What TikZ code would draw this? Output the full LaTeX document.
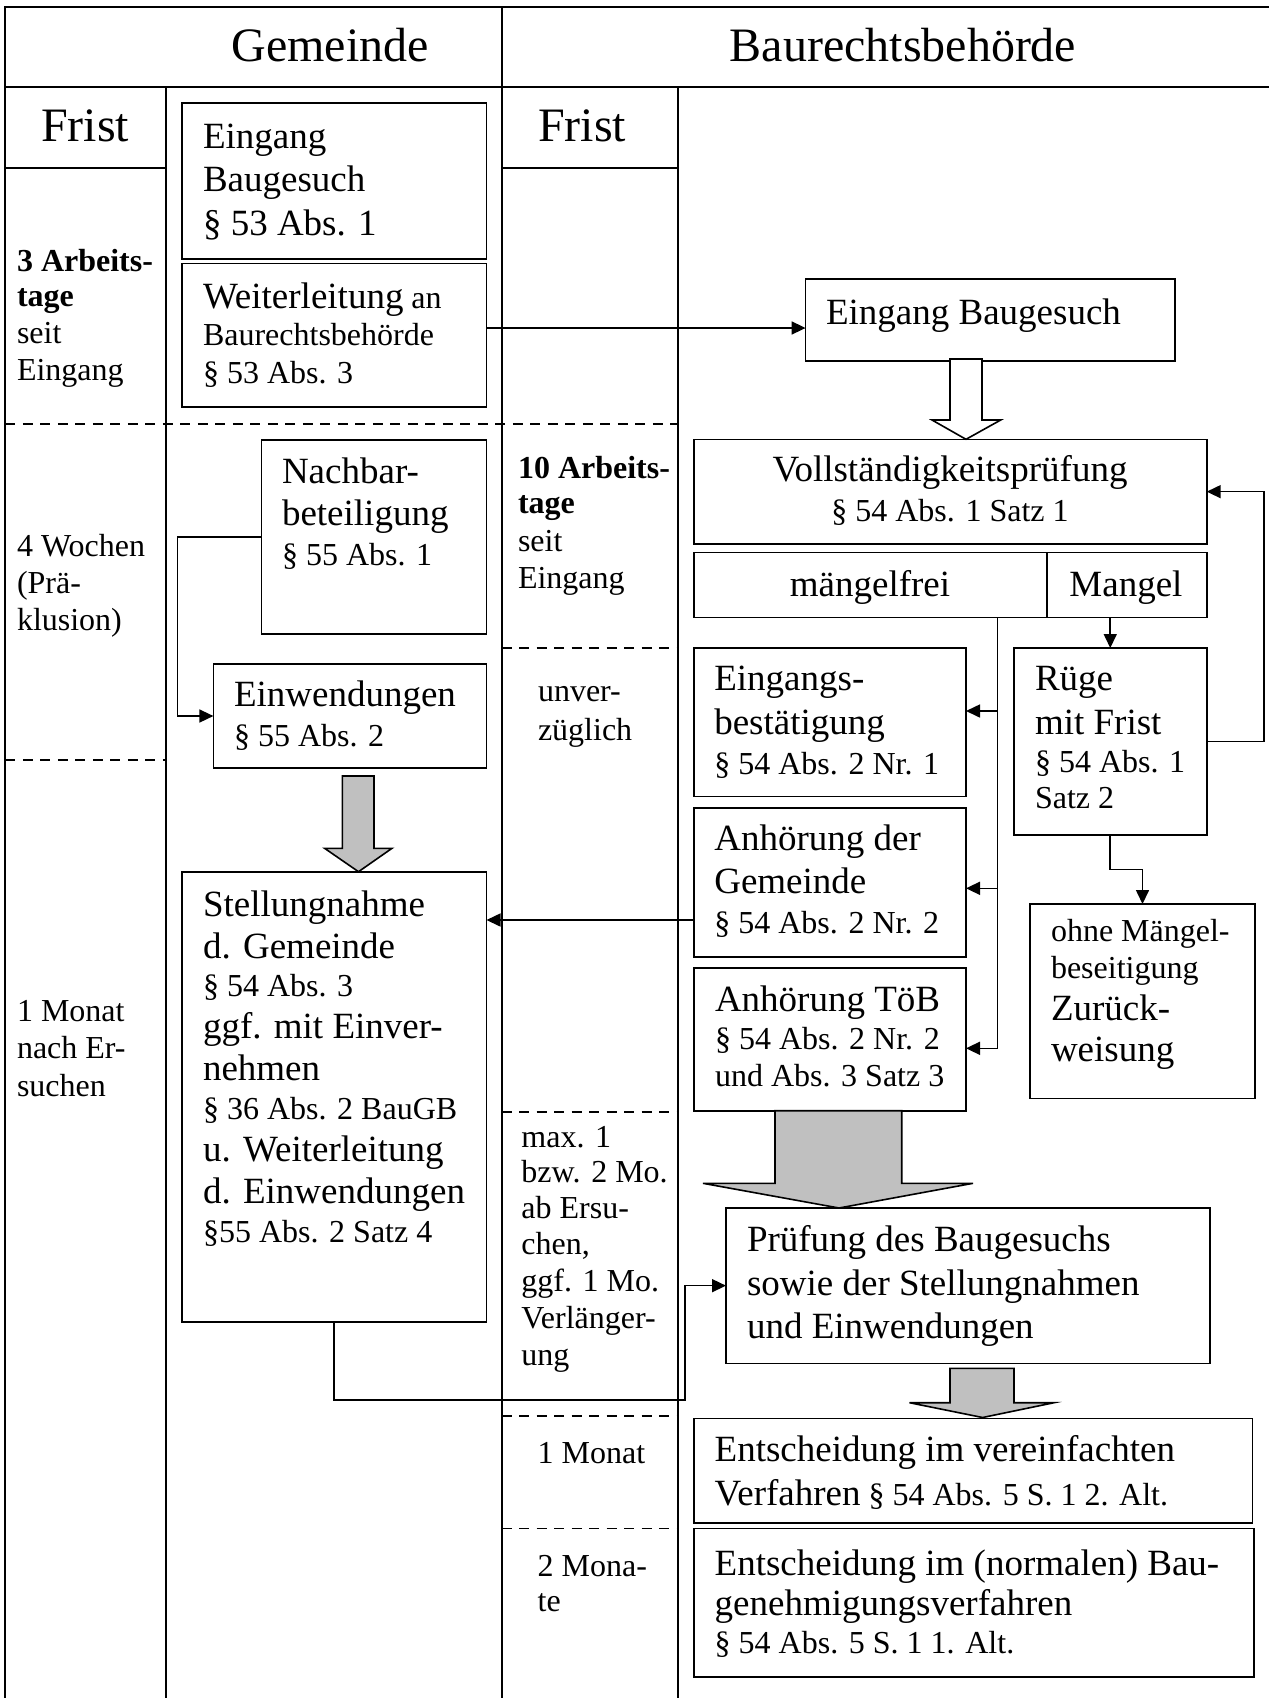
\documentclass[tikz,border=0pt]{standalone}
\usepackage{fontspec}
\setmainfont{Liberation Serif}
\usetikzlibrary{arrows.meta}
\definecolor{grArrow}{RGB}{192,192,192}
\newcommand\fBig{\fontsize{37}{43}\selectfont}
\newcommand\fMed{\fontsize{32}{37}\selectfont}
\newcommand\fHead{\fontsize{48}{55}\selectfont}
\newcommand\Bx[5]{\node[bx, minimum width={#4-#2}, minimum height={#5-#3}] (#1) at ({(#2+#4)/2},{(#3+#5)/2}) {};}
\newcommand\Tx[5]{\node[tx,font=#4] (#1) at (#2,#3) {#5};}
\begin{document}
\begin{tikzpicture}[x=1pt,y=-1pt,
  frame/.style={line width=2pt},
  dsh/.style={line width=1.6pt, dash pattern=on 10pt off 7.5pt},
  bx/.style={draw, line width=1.6pt, inner sep=0pt, outer sep=0pt, rectangle},
  tx/.style={anchor=base west, inner sep=0pt, outer sep=0pt},
  txc/.style={anchor=base, inner sep=0pt, outer sep=0pt},
  arr/.style={line width=1.6pt, -{Triangle[length=14pt,width=13pt]}},
  lin/.style={line width=1.6pt},
  blk/.style={draw, line width=1.6pt, line join=miter}]
\useasboundingbox (0,0) rectangle (1269,1698);
% ---------- frame ----------
\draw[frame] (5.4,7) -- (1269,7);
\draw[frame] (5.4,87) -- (1269,87);
\draw[frame] (5.4,6) -- (5.4,1698);
\draw[frame] (165.7,87) -- (165.7,1698);
\draw[frame] (501.5,6) -- (501.5,1698);
\draw[frame] (678,87) -- (678,1698);
\draw[frame] (5.4,167.8) -- (165.7,167.8);
\draw[frame] (501.5,167.8) -- (678,167.8);
\draw[dsh] (5.4,424) -- (678,424);
\draw[dsh] (5.4,760) -- (165.7,760);
\draw[dsh] (501.5,647.7) -- (678,647.7);
\draw[dsh] (501.5,1111.7) -- (678,1111.7);
\draw[dsh] (501.5,1416) -- (678,1416);
\draw[dsh] (501.5,1528.3) -- (678,1528.3);
% ---------- headers ----------
\node[txc,font=\fHead] (hG) at (330,61.7) {Gemeinde};
\node[txc,font=\fHead] (hB) at (903,61.7) {Baurechtsbehörde};
\Tx{fr1}{41}{141.7}{\fHead}{Frist}
\Tx{fr2}{538}{141.7}{\fHead}{Frist}
% ---------- Frist column 1 ----------
\Tx{a1}{17}{271.7}{\fMed\bfseries}{3 Arbeits-}
\Tx{a2}{17}{306.7}{\fMed\bfseries}{tage}
\Tx{a3}{17}{343}{\fMed}{seit}
\Tx{a4}{17}{380}{\fMed}{Eingang}
\Tx{a5}{17}{556.7}{\fMed}{4 Wochen}
\Tx{a6}{17}{593}{\fMed}{(Prä-}
\Tx{a7}{17}{630}{\fMed}{klusion)}
\Tx{a8}{17}{1021.7}{\fMed}{1 Monat}
\Tx{a9}{17}{1058.3}{\fMed}{nach Er-}
\Tx{a10}{17}{1096}{\fMed}{suchen}
% ---------- Frist column 3 ----------
\Tx{c1}{518}{478}{\fMed\bfseries}{10 Arbeits-}
\Tx{c2}{518}{513}{\fMed\bfseries}{tage}
\Tx{c3}{518}{551.7}{\fMed}{seit}
\Tx{c4}{518}{588}{\fMed}{Eingang}
\Tx{c5}{538}{701.7}{\fMed}{unver-}
\Tx{c6}{538}{740}{\fMed}{züglich}
\Tx{c7}{521.4}{1147.7}{\fMed}{max. 1}
\Tx{c8}{521.4}{1182}{\fMed}{bzw. 2 Mo.}
\Tx{c9}{521.4}{1218.3}{\fMed}{ab Ersu-}
\Tx{c10}{521.4}{1254}{\fMed}{chen,}
\Tx{c11}{521.4}{1291.7}{\fMed}{ggf. 1 Mo.}
\Tx{c12}{521.4}{1328}{\fMed}{Verlänger-}
\Tx{c13}{521.4}{1365}{\fMed}{ung}
\Tx{c14}{537.7}{1463.3}{\fMed}{1 Monat}
\Tx{c15}{537.7}{1576.7}{\fMed}{2 Mona-}
\Tx{c16}{537.7}{1611.7}{\fMed}{te}
% ---------- boxes Gemeinde ----------
\Bx{b1}{182}{103}{486.5}{259}
\Bx{b2}{182}{263.5}{486.5}{406.7}
\Bx{b3}{261.6}{440}{486.5}{634}
\Bx{b4}{213.4}{664}{486.5}{768}
\Bx{b5}{181.7}{872}{486.5}{1321.7}
% ---------- boxes Baurechtsbehoerde ----------
\Bx{b6}{805.6}{278.7}{1174.7}{361}
\Bx{b7}{694}{439.4}{1206.7}{543.9}
\Bx{mfrei}{694}{552.3}{1046.7}{617.4}
\Bx{mang}{1046.7}{552.3}{1206.7}{617.4}
\Bx{b9}{694}{648}{966}{796.5}
\Bx{b10}{1013.8}{648}{1206.7}{834.8}
\Bx{b11}{694}{808}{966}{956.7}
\Bx{b12}{694}{967.7}{966}{1110.7}
\Bx{b13}{1030}{904}{1255}{1098.3}
\Bx{b14}{726}{1208}{1210}{1363.3}
\Bx{b15}{694}{1418.3}{1252.6}{1522.7}
\Bx{b16}{694}{1528.3}{1254}{1676.7}
% ---------- box texts ----------
\Tx{t1}{203}{148}{\fBig}{Eingang}
\Tx{t2}{203}{191}{\fBig}{Baugesuch}
\Tx{t3}{203}{235}{\fBig}{§ 53 Abs. 1}
\Tx{t4}{203}{308}{\fBig}{Weiterleitung{\fMed{} an}}
\Tx{t5}{203}{345}{\fMed}{Baurechtsbehörde}
\Tx{t6}{203}{383}{\fMed}{§ 53 Abs. 3}
\Tx{t7}{282}{483.3}{\fBig}{Nachbar-}
\Tx{t8}{282}{525}{\fBig}{beteiligung}
\Tx{t9}{282}{565.7}{\fMed}{§ 55 Abs. 1}
\Tx{t10}{234}{706.7}{\fBig}{Einwendungen}
\Tx{t11}{234}{746.7}{\fMed}{§ 55 Abs. 2}
\Tx{t12}{203}{916.7}{\fBig}{Stellungnahme}
\Tx{t13}{203}{958.3}{\fBig}{d. Gemeinde}
\Tx{t14}{203}{996.7}{\fMed}{§ 54 Abs. 3}
\Tx{t15}{203}{1038.3}{\fBig}{ggf. mit Einver-}
\Tx{t16}{203}{1080}{\fBig}{nehmen}
\Tx{t17}{203}{1119.3}{\fMed}{§ 36 Abs. 2 BauGB}
\Tx{t18}{203}{1161.7}{\fBig}{u. Weiterleitung}
\Tx{t19}{203}{1203.3}{\fBig}{d. Einwendungen}
\Tx{t20}{203}{1242.7}{\fMed}{§55 Abs. 2 Satz 4}
\Tx{t21}{826}{324.6}{\fBig}{Eingang Baugesuch}
\node[txc,font=\fBig] (t22) at (950,481.5) {Vollständigkeitsprüfung};
\node[txc,font=\fMed] (t23) at (950,521.7) {§ 54 Abs. 1 Satz 1};
\node[txc,font=\fBig] (t24) at (870,596.3) {mängelfrei};
\node[txc,font=\fBig] (t25) at (1126,596.3) {Mangel};
\Tx{t26}{714.3}{690}{\fBig}{Eingangs-}
\Tx{t27}{714.3}{734}{\fBig}{bestätigung}
\Tx{t28}{714.3}{774.3}{\fMed}{§ 54 Abs. 2 Nr. 1}
\Tx{t29}{1035}{690}{\fBig}{Rüge}
\Tx{t30}{1035}{734}{\fBig}{mit Frist}
\Tx{t31}{1035}{772.4}{\fMed}{§ 54 Abs. 1}
\Tx{t32}{1035}{808.7}{\fMed}{Satz 2}
\Tx{t33}{714.3}{850}{\fBig}{Anhörung der}
\Tx{t34}{714.3}{893.3}{\fBig}{Gemeinde}
\Tx{t35}{714.3}{933.3}{\fMed}{§ 54 Abs. 2 Nr. 2}
\Tx{t36}{715}{1011.7}{\fBig}{Anhörung TöB}
\Tx{t37}{715}{1049.3}{\fMed}{§ 54 Abs. 2 Nr. 2}
\Tx{t38}{715}{1086.7}{\fMed}{und Abs. 3 Satz 3}
\Tx{t39}{1051}{941.7}{\fMed}{ohne Mängel-}
\Tx{t40}{1051}{978.3}{\fMed}{beseitigung}
\Tx{t41}{1051}{1020}{\fBig}{Zurück-}
\Tx{t42}{1051}{1061.7}{\fBig}{weisung}
\Tx{t43}{747}{1251.7}{\fBig}{Prüfung des Baugesuchs}
\Tx{t44}{747}{1295}{\fBig}{sowie der Stellungnahmen}
\Tx{t45}{747}{1338.3}{\fBig}{und Einwendungen}
\Tx{t46}{714.7}{1461.7}{\fBig}{Entscheidung im vereinfachten}
\Tx{t47}{714.7}{1505}{\fBig}{Verfahren{\fMed{} § 54 Abs. 5 S. 1 2. Alt.}}
\Tx{t48}{714.7}{1575}{\fBig}{Entscheidung im (normalen) Bau-}
\Tx{t49}{714.7}{1615}{\fBig}{genehmigungsverfahren}
\Tx{t50}{714.7}{1653.3}{\fMed}{§ 54 Abs. 5 S. 1 1. Alt.}
% ---------- helper coordinates ----------
\coordinate (yw) at (0,328);
\coordinate (vx) at (997.6,0);
\coordinate (ya) at (0,711);
\coordinate (yb) at (0,888.3);
\coordinate (yc) at (0,1048.3);
\coordinate (yst) at (0,920);
\coordinate (cz) at (685,1400);
% ---------- connectors ----------
\draw[arr] (b2.east |- yw) -- (b6.west |- yw);
\draw[arr] (b3.west) -- ++(-84,0) |- (b4.west);
\draw[lin] (vx |- mfrei.south) -- (vx |- yc);
\draw[arr] (vx |- ya) -- (b9.east |- ya);
\draw[arr] (vx |- yb) -- (b11.east |- yb);
\draw[arr] (vx |- yc) -- (b12.east |- yc);
\draw[arr] (b10.north |- mang.south) -- (b10.north);
\draw[arr] (b10.east) -- ++(57.3,0) |- (b7.east);
\draw[arr] (b10.south) -- ++(0,34.5) -| (b13.north);
\draw[arr] (b11.west |- yst) -- (b5.east |- yst);
\draw[arr] (b5.south) |- (cz) |- (b14.west);
% ---------- block arrows ----------
\draw[blk, fill=white] (950,359) -- (950,420) -- (932,420) -- (966,439.3) -- (1000.7,420) -- (982,420) -- (982,359) -- cycle;
\draw[blk, fill=grArrow] (342.4,776) -- (342.4,848.3) -- (324.6,848.3) -- (358.5,871.7) -- (392,848.3) -- (374,848.3) -- (374,776) -- cycle;
\draw[blk, fill=grArrow] (775,1110.7) -- (775,1183.3) -- (703,1183.3) -- (839,1208) -- (973,1183.3) -- (901.7,1183.3) -- (901.7,1110.7) -- cycle;
\draw[blk, fill=grArrow] (950,1368.3) -- (950,1402.7) -- (909.5,1402.7) -- (982.6,1417.5) -- (1054,1402.7) -- (1014,1402.7) -- (1014,1368.3) -- cycle;
\end{tikzpicture}
\end{document}
